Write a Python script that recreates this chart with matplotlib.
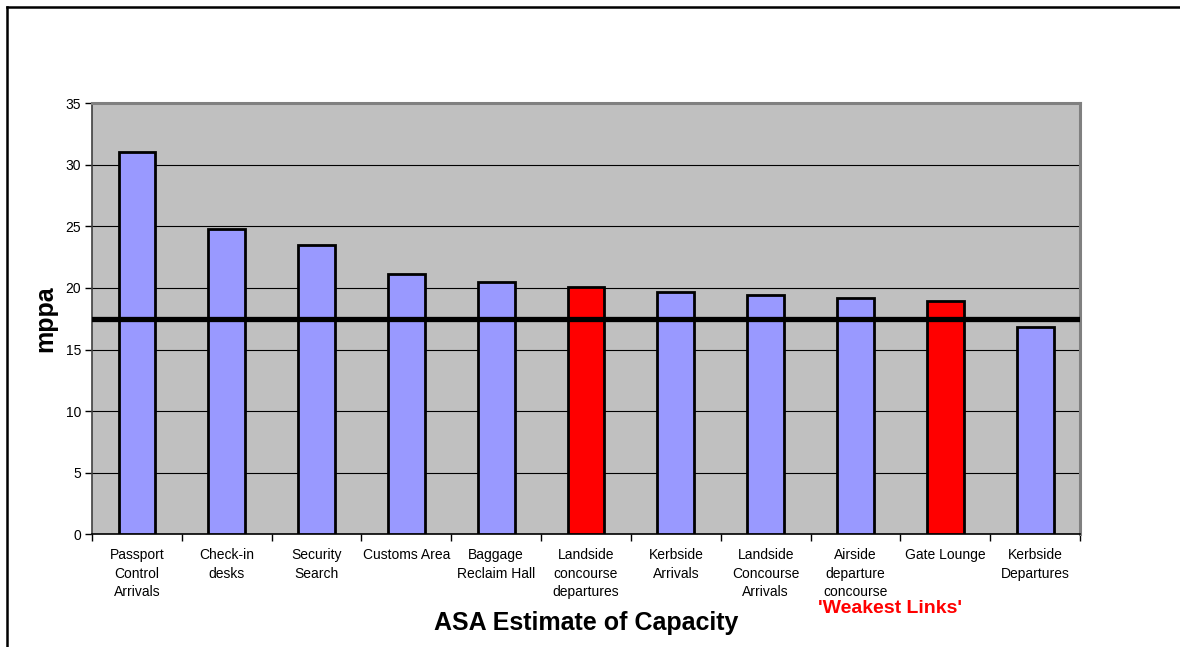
import matplotlib.pyplot as plt
from matplotlib.lines import Line2D

plt.rcParams['font.family'] = ['Liberation Sans', 'DejaVu Sans']

# Capacity estimate per airport facility (million passengers per annum)
categories = [
    "Passport\nControl\nArrivals", "Check-in\ndesks", "Security\nSearch",
    "Customs Area", "Baggage\nReclaim Hall", "Landside\nconcourse\ndepartures",
    "Kerbside\nArrivals", "Landside\nConcourse\nArrivals", "Airside\ndeparture\nconcourse",
    "Gate Lounge", "Kerbside\nDepartures",
]
capacity = [31.0, 24.8, 23.5, 21.1, 20.5, 20.1, 19.7, 19.4, 19.2, 18.9, 16.8]
weakest = ["Landside\nconcourse\ndepartures", "Gate Lounge"]
demand_level = 17.5
yticks = [0, 5, 10, 15, 20, 25, 30, 35]

colors = ["#FF0000" if c in weakest else "#9999FF" for c in categories]

fig = plt.figure(figsize=(11.8, 6.47), dpi=100)
ax = fig.add_axes([0.078, 0.1739, 0.8373, 0.6669])
ax.set_facecolor("#C0C0C0")

x = range(len(categories))
ax.bar(x, capacity, width=0.41, color=colors, edgecolor="black", linewidth=2.0, zorder=3)
ax.axhline(demand_level, color="black", linewidth=3.8, zorder=4)

ax.set_xlim(-0.5, len(categories) - 0.5)
ax.set_ylim(0, 35)
ax.set_yticks(yticks)
ax.yaxis.grid(True, color="black", linewidth=0.8)
ax.set_axisbelow(True)

# category labels sit between the tick marks
ax.set_xticks([i - 0.5 for i in range(len(categories) + 1)])
ax.set_xticklabels([])
ax.set_xticks(list(x), minor=True)
ax.set_xticklabels(categories, minor=True, fontsize=10, linespacing=1.38, va="top")
ax.tick_params(axis="x", which="minor", length=0, pad=10)
ax.tick_params(axis="x", which="major", length=5, width=1, direction="out")
ax.tick_params(axis="y", length=5, width=1, labelsize=10, pad=3)

for side in ["top", "right"]:
    ax.spines[side].set_color("#808080")
    ax.spines[side].set_linewidth(2.2)
ax.spines["left"].set_color("#404040")
ax.spines["left"].set_linewidth(1.2)
ax.spines["bottom"].set_color("black")
ax.spines["bottom"].set_linewidth(1.2)

ax.set_ylabel("mppa", fontsize=18, fontweight="bold", labelpad=6)

fig.text(0.497, 0.037, "ASA Estimate of Capacity", ha="center", va="center",
         fontsize=18, fontweight="bold")
fig.text(0.754, 0.059, "'Weakest Links'", ha="center", va="center",
         fontsize=14, fontweight="bold", color="#FF0000")

# frame lines along the top and left of the figure
fig.add_artist(Line2D([0.006, 1.0], [0.989, 0.989], color="black", linewidth=1.8))
fig.add_artist(Line2D([0.006, 0.006], [0.0, 0.989], color="black", linewidth=1.8))

fig.savefig("out.png", dpi=100)
